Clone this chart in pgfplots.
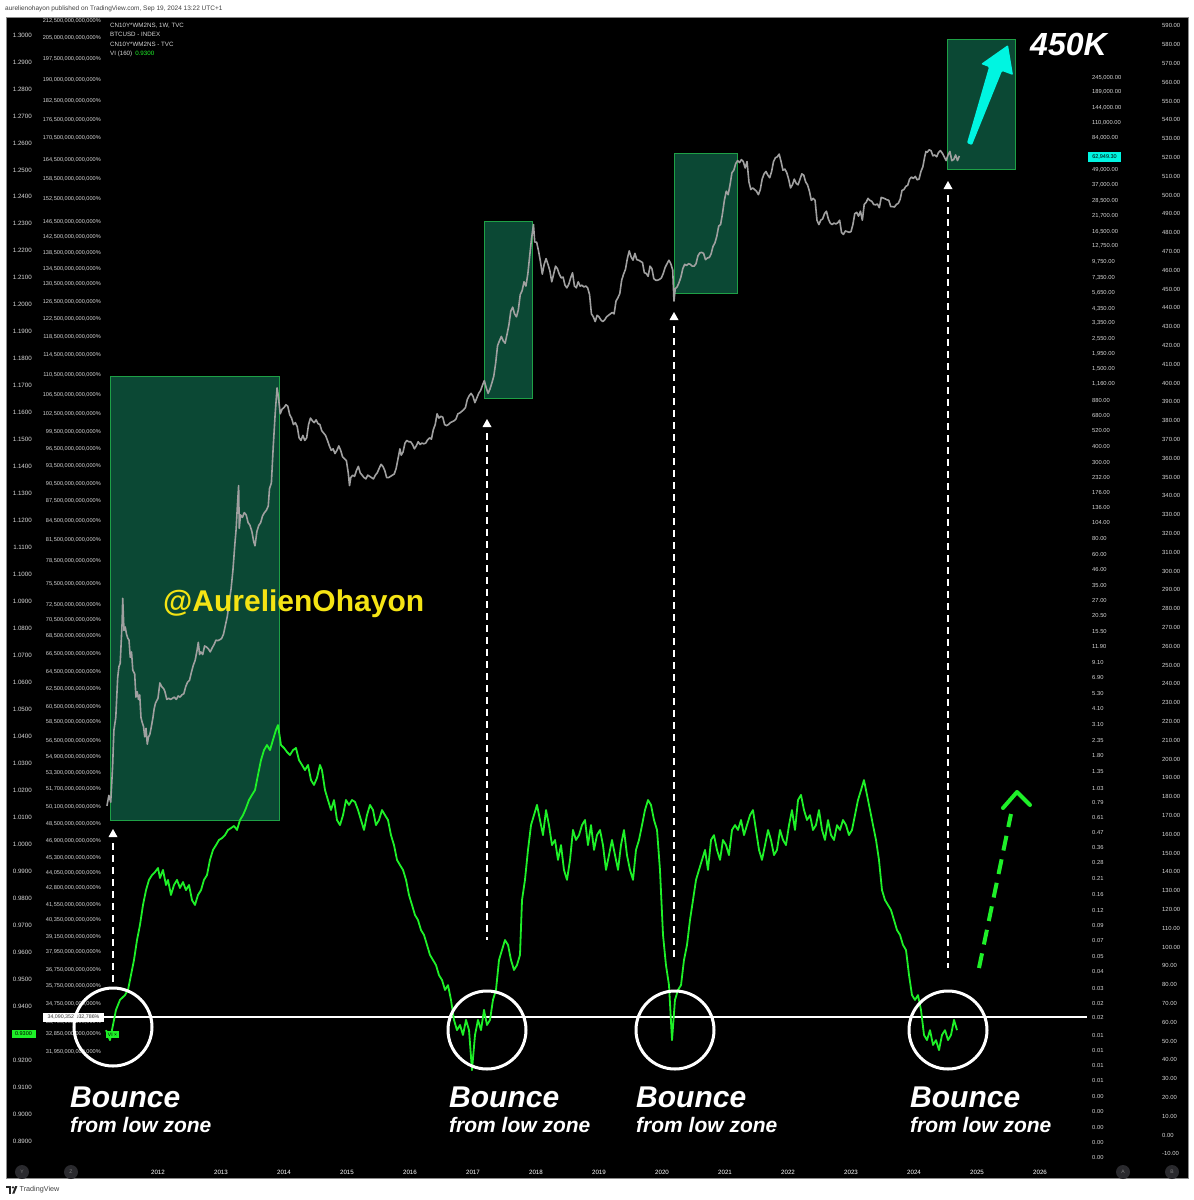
\documentclass[border=0pt]{standalone}
\usepackage{pgfplots}
\pgfplotsset{compat=1.18}
\usepackage{fontspec}
\setmainfont{Liberation Sans}
\definecolor{boxfill}{RGB}{11,72,52}
\definecolor{boxedge}{RGB}{30,160,70}
\definecolor{vigreen}{RGB}{30,240,40}
\definecolor{btcgray}{RGB}{160,160,160}
\definecolor{ticktext}{RGB}{215,215,215}
\definecolor{aqua}{RGB}{0,245,225}
\definecolor{handle}{RGB}{245,228,20}
\definecolor{knob}{RGB}{42,42,46}
\pgfplotsset{
  base/.style={
    at={(104pt,-1160pt)}, anchor=south west,
    width=983pt, height=1143pt, scale only axis,
    xmin=2011.143, xmax=2026.746,
    axis line style={draw=none}, tick style={draw=none}, major tick length=0pt,
    xtick=\empty, ytick=\empty,
    tick label style={text=ticktext, inner sep=0pt},
  },
}
\begin{document}
\begin{tikzpicture}
\useasboundingbox (0pt,0pt) rectangle (1194pt,-1200pt);
\fill[white] (0pt,0pt) rectangle (1194pt,-1200pt);
\fill[black] (6pt,-17pt) rectangle (1188pt,-1178pt);
\draw[black!45, line width=0.8pt] (6pt,-17pt) rectangle (1188pt,-1178pt);

% ---------- BTC (log scale) ----------
\begin{axis}[base, ymode=log, ymin=0.001556, ymax=709800]
\fill[boxfill] (axis cs:2011.238,0.587) rectangle (axis cs:2013.921,1352);
\draw[boxedge, line width=0.8pt] (axis cs:2011.238,0.587) rectangle (axis cs:2013.921,1352);
\fill[boxfill] (axis cs:2017.175,922) rectangle (axis cs:2017.937,20200);
\draw[boxedge, line width=0.8pt] (axis cs:2017.175,922) rectangle (axis cs:2017.937,20200);
\fill[boxfill] (axis cs:2020.19,5750) rectangle (axis cs:2021.19,66200);
\draw[boxedge, line width=0.8pt] (axis cs:2020.19,5750) rectangle (axis cs:2021.19,66200);
\fill[boxfill] (axis cs:2024.524,50100) rectangle (axis cs:2025.603,483000);
\draw[boxedge, line width=0.8pt] (axis cs:2024.524,50100) rectangle (axis cs:2025.603,483000);
\addplot[btcgray, line width=1.6pt, line join=round] table[row sep=\\] {
2011.19 0.75\\ 2011.22 0.90\\ 2011.25 0.80\\ 2011.28 1.5\\ 2011.30 2.8\\ 2011.33 3.5\\ 2011.36 7.0\\ 2011.38 8.5\\ 2011.40 9.0\\ 2011.43 18\\
2011.44 28\\ 2011.46 16\\ 2011.48 17\\ 2011.50 15\\ 2011.52 14\\ 2011.54 13.5\\ 2011.56 10\\ 2011.58 11\\ 2011.60 8.0\\ 2011.63 7.5\\
2011.65 5.0\\ 2011.67 5.5\\ 2011.69 4.8\\ 2011.71 5.2\\ 2011.73 3.5\\ 2011.75 3.2\\ 2011.77 3.0\\ 2011.79 2.5\\ 2011.81 2.9\\ 2011.83 2.2\\
2011.85 2.5\\ 2011.87 2.6\\ 2011.89 2.9\\ 2011.92 3.5\\ 2011.94 4.1\\ 2011.96 4.5\\ 2012.00 4.9\\ 2012.03 6.4\\ 2012.06 6.0\\ 2012.09 5.8\\
2012.11 5.5\\ 2012.14 4.8\\ 2012.17 4.9\\ 2012.20 4.8\\ 2012.23 4.9\\ 2012.26 5.0\\ 2012.29 4.8\\ 2012.32 5.1\\ 2012.35 5.0\\ 2012.38 5.2\\
2012.41 5.3\\ 2012.44 6.0\\ 2012.47 6.5\\ 2012.50 6.7\\ 2012.53 7.7\\ 2012.56 8.7\\ 2012.59 9.5\\ 2012.62 11.3\\ 2012.64 13.0\\ 2012.66 10.5\\
2012.68 11.0\\ 2012.71 10.5\\ 2012.74 12.2\\ 2012.77 12.0\\ 2012.80 11.6\\ 2012.83 11.0\\ 2012.86 11.8\\ 2012.89 12.5\\ 2012.92 13.5\\ 2012.95 13.4\\
2012.98 13.6\\ 2013.01 13.9\\ 2013.04 15.0\\ 2013.07 17.5\\ 2013.10 20.4\\ 2013.13 26\\ 2013.16 33\\ 2013.19 46\\ 2013.22 72\\ 2013.24 93\\
2013.26 140\\ 2013.28 200\\ 2013.29 95\\ 2013.31 120\\ 2013.34 115\\ 2013.37 125\\ 2013.40 120\\ 2013.43 105\\ 2013.46 100\\ 2013.49 90\\
2013.52 75\\ 2013.54 70\\ 2013.57 90\\ 2013.60 100\\ 2013.63 105\\ 2013.66 118\\ 2013.69 125\\ 2013.72 130\\ 2013.75 140\\ 2013.77 190\\
2013.80 210\\ 2013.83 400\\ 2013.86 700\\ 2013.89 1100\\ 2013.91 950\\ 2013.94 700\\ 2013.97 760\\ 2014.00 780\\ 2014.03 820\\ 2014.06 800\\
2014.09 690\\ 2014.12 650\\ 2014.15 580\\ 2014.18 600\\ 2014.21 560\\ 2014.24 460\\ 2014.27 440\\ 2014.30 480\\ 2014.33 440\\ 2014.36 460\\
2014.39 580\\ 2014.42 650\\ 2014.45 620\\ 2014.48 600\\ 2014.51 630\\ 2014.54 590\\ 2014.57 580\\ 2014.60 520\\ 2014.63 500\\ 2014.66 480\\
2014.69 440\\ 2014.72 400\\ 2014.75 370\\ 2014.78 380\\ 2014.81 350\\ 2014.84 370\\ 2014.87 400\\ 2014.90 370\\ 2014.93 330\\ 2014.96 320\\
2014.99 310\\ 2015.02 250\\ 2015.04 200\\ 2015.06 230\\ 2015.09 240\\ 2015.12 235\\ 2015.15 260\\ 2015.18 280\\ 2015.21 250\\ 2015.24 240\\
2015.27 230\\ 2015.30 225\\ 2015.33 240\\ 2015.36 235\\ 2015.39 230\\ 2015.42 225\\ 2015.45 240\\ 2015.48 250\\ 2015.51 270\\ 2015.54 290\\
2015.57 280\\ 2015.60 260\\ 2015.63 230\\ 2015.66 230\\ 2015.69 235\\ 2015.72 240\\ 2015.75 245\\ 2015.78 270\\ 2015.81 320\\ 2015.84 380\\
2015.86 340\\ 2015.89 360\\ 2015.92 420\\ 2015.95 440\\ 2015.98 430\\ 2016.01 430\\ 2016.04 410\\ 2016.07 380\\ 2016.10 400\\ 2016.13 430\\
2016.16 410\\ 2016.19 420\\ 2016.22 415\\ 2016.25 420\\ 2016.28 445\\ 2016.31 460\\ 2016.34 450\\ 2016.37 530\\ 2016.40 580\\ 2016.43 700\\
2016.46 650\\ 2016.49 670\\ 2016.52 660\\ 2016.55 580\\ 2016.58 570\\ 2016.61 580\\ 2016.64 600\\ 2016.67 610\\ 2016.70 620\\ 2016.73 640\\
2016.76 700\\ 2016.79 710\\ 2016.82 730\\ 2016.85 750\\ 2016.88 780\\ 2016.91 900\\ 2016.94 960\\ 2016.97 1000\\ 2017.00 950\\ 2017.03 850\\
2017.06 920\\ 2017.09 1000\\ 2017.12 1050\\ 2017.15 1150\\ 2017.18 1250\\ 2017.21 1100\\ 2017.24 1000\\ 2017.27 1080\\ 2017.30 1200\\ 2017.33 1350\\
2017.36 1700\\ 2017.39 2300\\ 2017.42 2500\\ 2017.45 2700\\ 2017.48 2500\\ 2017.51 2400\\ 2017.54 2800\\ 2017.57 3300\\ 2017.60 4200\\ 2017.63 4500\\
2017.66 4000\\ 2017.69 3800\\ 2017.72 4300\\ 2017.75 5600\\ 2017.78 6000\\ 2017.81 7000\\ 2017.84 6500\\ 2017.87 8000\\ 2017.90 11000\\ 2017.93 15000\\
2017.96 19000\\ 2017.98 14000\\ 2018.01 14000\\ 2018.04 12000\\ 2018.07 10000\\ 2018.10 8000\\ 2018.13 9500\\ 2018.16 10500\\ 2018.19 9500\\ 2018.22 8500\\
2018.25 7000\\ 2018.28 8000\\ 2018.31 9200\\ 2018.34 8800\\ 2018.37 8000\\ 2018.40 7500\\ 2018.43 7600\\ 2018.46 6600\\ 2018.49 6300\\ 2018.52 6700\\
2018.55 7500\\ 2018.58 8200\\ 2018.61 6500\\ 2018.64 6300\\ 2018.67 7000\\ 2018.70 6500\\ 2018.73 6600\\ 2018.76 6400\\ 2018.79 6500\\ 2018.82 6300\\
2018.85 5600\\ 2018.88 4000\\ 2018.91 3800\\ 2018.94 3500\\ 2018.97 3900\\ 2019.00 3800\\ 2019.03 3600\\ 2019.06 3500\\ 2019.09 3600\\ 2019.12 3800\\
2019.15 3900\\ 2019.18 4000\\ 2019.21 4100\\ 2019.24 4000\\ 2019.27 5000\\ 2019.30 5300\\ 2019.33 5700\\ 2019.36 7200\\ 2019.39 8000\\ 2019.42 8700\\
2019.45 10500\\ 2019.48 12000\\ 2019.51 10800\\ 2019.54 10200\\ 2019.57 11500\\ 2019.60 10300\\ 2019.63 10200\\ 2019.66 10000\\ 2019.69 9800\\ 2019.72 8200\\
2019.75 8100\\ 2019.78 7700\\ 2019.81 9200\\ 2019.84 8800\\ 2019.87 7400\\ 2019.90 7200\\ 2019.93 7200\\ 2019.96 7300\\ 2019.99 7500\\ 2020.02 8100\\
2020.05 9000\\ 2020.08 9600\\ 2020.11 10200\\ 2020.14 9600\\ 2020.17 8600\\ 2020.19 5000\\ 2020.21 6200\\ 2020.24 6400\\ 2020.27 6900\\ 2020.30 7600\\
2020.33 8800\\ 2020.36 9500\\ 2020.39 9300\\ 2020.42 9600\\ 2020.45 9500\\ 2020.48 9200\\ 2020.51 9200\\ 2020.54 9600\\ 2020.57 11000\\ 2020.60 11600\\
2020.63 11700\\ 2020.66 11500\\ 2020.69 10300\\ 2020.72 10600\\ 2020.75 10700\\ 2020.78 11400\\ 2020.81 13000\\ 2020.84 13800\\ 2020.87 15500\\ 2020.90 18500\\
2020.93 19000\\ 2020.96 23000\\ 2020.99 29000\\ 2021.02 34000\\ 2021.05 32000\\ 2021.08 38000\\ 2021.11 47000\\ 2021.14 49000\\ 2021.17 55000\\ 2021.20 58000\\
2021.23 56000\\ 2021.26 59000\\ 2021.29 57000\\ 2021.32 51000\\ 2021.35 57000\\ 2021.38 40000\\ 2021.41 35000\\ 2021.44 36000\\ 2021.47 35000\\ 2021.50 34000\\
2021.53 32000\\ 2021.56 35000\\ 2021.59 42000\\ 2021.62 46000\\ 2021.65 48000\\ 2021.68 45000\\ 2021.71 43000\\ 2021.74 48000\\ 2021.77 57000\\ 2021.80 61000\\
2021.83 62000\\ 2021.86 65000\\ 2021.89 57000\\ 2021.92 49000\\ 2021.95 50000\\ 2021.98 47000\\ 2022.01 42000\\ 2022.04 36000\\ 2022.07 38000\\ 2022.10 42000\\
2022.13 39000\\ 2022.16 38000\\ 2022.19 42000\\ 2022.22 46000\\ 2022.25 45000\\ 2022.28 40000\\ 2022.31 38000\\ 2022.34 34000\\ 2022.37 29000\\ 2022.40 30000\\
2022.43 29000\\ 2022.46 20500\\ 2022.49 19000\\ 2022.52 20500\\ 2022.55 21000\\ 2022.58 23000\\ 2022.61 24000\\ 2022.64 21000\\ 2022.67 19500\\ 2022.70 19000\\
2022.73 19500\\ 2022.76 19200\\ 2022.79 19600\\ 2022.82 20500\\ 2022.85 16500\\ 2022.88 16000\\ 2022.91 17000\\ 2022.94 16800\\ 2022.97 16600\\ 2023.00 16800\\
2023.03 19000\\ 2023.06 23000\\ 2023.09 23500\\ 2023.12 22000\\ 2023.15 24000\\ 2023.18 20500\\ 2023.21 27000\\ 2023.24 28000\\ 2023.27 30000\\ 2023.30 29000\\
2023.33 28500\\ 2023.36 27000\\ 2023.39 26800\\ 2023.42 27200\\ 2023.45 25500\\ 2023.48 30500\\ 2023.51 30200\\ 2023.54 29800\\ 2023.57 29300\\ 2023.60 29000\\
2023.63 26000\\ 2023.66 26000\\ 2023.69 25800\\ 2023.72 27000\\ 2023.75 27500\\ 2023.78 29500\\ 2023.81 34500\\ 2023.84 35000\\ 2023.87 37000\\ 2023.90 37700\\
2023.93 42000\\ 2023.96 43500\\ 2023.99 42500\\ 2024.02 44000\\ 2024.05 41500\\ 2024.08 42000\\ 2024.11 48000\\ 2024.14 52000\\ 2024.17 62000\\ 2024.19 68000\\
2024.21 67000\\ 2024.24 70000\\ 2024.27 69000\\ 2024.30 63000\\ 2024.33 64000\\ 2024.36 62000\\ 2024.39 67000\\ 2024.42 69000\\ 2024.45 66000\\ 2024.48 62000\\
2024.51 58000\\ 2024.54 64000\\ 2024.57 68000\\ 2024.60 58000\\ 2024.63 59000\\ 2024.66 64000\\ 2024.69 58000\\ 2024.72 62949\\
};
\end{axis}

% ---------- VI / left value scale ----------
\begin{axis}[base, ymin=0.88296, ymax=1.30667,
  ytick={0.89,0.90,0.91,0.92,0.93,0.94,0.95,0.96,0.97,0.98,0.99,1.00,1.01,1.02,1.03,1.04,1.05,1.06,1.07,1.08,1.09,1.10,1.11,1.12,1.13,1.14,1.15,1.16,1.17,1.18,1.19,1.20,1.21,1.22,1.23,1.24,1.25,1.26,1.27,1.28,1.29,1.30},
  yticklabel={\pgfmathprintnumber[fixed,fixed zerofill,precision=4,assume math mode=true]{\tick}},
  yticklabel style={anchor=east, xshift=-72pt, font=\fontsize{6.2}{7}\selectfont},
  xtick={2012,2013,2014,2015,2016,2017,2018,2019,2020,2021,2022,2023,2024,2025,2026},
  xticklabels={2012,2013,2014,2015,2016,2017,2018,2019,2020,2021,2022,2023,2024,2025,2026},
  xticklabel style={anchor=center, yshift=-12pt, text=white, font=\fontsize{6.2}{7}\selectfont}]
\addplot[white, line width=1.2pt] coordinates {(2011.143,0.936) (2026.746,0.936)};
\addplot[vigreen, line width=1.8pt, line join=round] table[row sep=\\] {
2011.175 0.9311\\ 2011.238 0.9274\\ 2011.286 0.9330\\ 2011.333 0.9386\\ 2011.397 0.9423\\ 2011.476 0.9441\\ 2011.524 0.9460\\ 2011.571 0.9515\\ 2011.619 0.9571\\ 2011.667 0.9645\\
2011.714 0.9701\\ 2011.762 0.9775\\ 2011.810 0.9830\\ 2011.857 0.9868\\ 2011.905 0.9886\\ 2011.952 0.9897\\ 2012.000 0.9912\\ 2012.032 0.9875\\ 2012.079 0.9905\\ 2012.127 0.9849\\
2012.159 0.9868\\ 2012.206 0.9812\\ 2012.254 0.9849\\ 2012.302 0.9868\\ 2012.349 0.9838\\ 2012.397 0.9860\\ 2012.444 0.9830\\ 2012.492 0.9849\\ 2012.540 0.9793\\ 2012.587 0.9775\\
2012.635 0.9812\\ 2012.683 0.9830\\ 2012.730 0.9868\\ 2012.778 0.9886\\ 2012.825 0.9942\\ 2012.873 0.9979\\ 2012.921 0.9997\\ 2012.968 1.0016\\ 2013.016 1.0023\\ 2013.063 1.0034\\
2013.111 1.0053\\ 2013.159 1.0060\\ 2013.206 1.0068\\ 2013.254 1.0053\\ 2013.302 1.0090\\ 2013.349 1.0108\\ 2013.397 1.0134\\ 2013.444 1.0164\\ 2013.492 1.0183\\ 2013.540 1.0201\\
2013.587 1.0257\\ 2013.635 1.0312\\ 2013.683 1.0349\\ 2013.730 1.0368\\ 2013.778 1.0349\\ 2013.825 1.0387\\ 2013.873 1.0424\\ 2013.905 1.0442\\ 2013.952 1.0368\\ 2014.000 1.0357\\
2014.048 1.0342\\ 2014.095 1.0331\\ 2014.143 1.0349\\ 2014.190 1.0357\\ 2014.238 1.0312\\ 2014.286 1.0294\\ 2014.333 1.0275\\ 2014.381 1.0294\\ 2014.429 1.0238\\ 2014.476 1.0220\\
2014.524 1.0246\\ 2014.571 1.0294\\ 2014.603 1.0275\\ 2014.651 1.0201\\ 2014.698 1.0164\\ 2014.746 1.0127\\ 2014.794 1.0164\\ 2014.841 1.0090\\ 2014.889 1.0071\\ 2014.937 1.0108\\
2014.984 1.0164\\ 2015.032 1.0146\\ 2015.079 1.0164\\ 2015.127 1.0157\\ 2015.175 1.0127\\ 2015.222 1.0090\\ 2015.270 1.0053\\ 2015.317 1.0108\\ 2015.365 1.0146\\ 2015.413 1.0127\\
2015.460 1.0071\\ 2015.508 1.0090\\ 2015.556 1.0127\\ 2015.603 1.0108\\ 2015.651 1.0090\\ 2015.698 1.0034\\ 2015.746 0.9997\\ 2015.794 0.9942\\ 2015.841 0.9923\\ 2015.889 0.9905\\
2015.937 0.9868\\ 2015.984 0.9812\\ 2016.032 0.9775\\ 2016.079 0.9738\\ 2016.127 0.9719\\ 2016.175 0.9682\\ 2016.222 0.9664\\ 2016.270 0.9627\\ 2016.317 0.9590\\ 2016.365 0.9571\\
2016.413 0.9552\\ 2016.460 0.9515\\ 2016.508 0.9497\\ 2016.556 0.9460\\ 2016.603 0.9478\\ 2016.651 0.9423\\ 2016.698 0.9349\\ 2016.746 0.9311\\ 2016.794 0.9330\\ 2016.841 0.9293\\
2016.889 0.9349\\ 2016.937 0.9311\\ 2016.984 0.9163\\ 2017.032 0.9293\\ 2017.079 0.9349\\ 2017.127 0.9311\\ 2017.175 0.9386\\ 2017.222 0.9330\\ 2017.270 0.9349\\ 2017.317 0.9423\\
2017.365 0.9460\\ 2017.413 0.9571\\ 2017.460 0.9608\\ 2017.508 0.9645\\ 2017.556 0.9627\\ 2017.603 0.9571\\ 2017.651 0.9534\\ 2017.698 0.9552\\ 2017.746 0.9590\\ 2017.778 0.9793\\
2017.825 0.9868\\ 2017.873 0.9979\\ 2017.921 1.0071\\ 2017.968 1.0108\\ 2018.016 1.0146\\ 2018.063 1.0090\\ 2018.111 1.0034\\ 2018.159 1.0127\\ 2018.206 1.0071\\ 2018.254 0.9997\\
2018.302 1.0016\\ 2018.349 0.9942\\ 2018.397 0.9997\\ 2018.444 0.9905\\ 2018.492 0.9868\\ 2018.540 0.9942\\ 2018.587 1.0053\\ 2018.635 1.0016\\ 2018.683 1.0034\\ 2018.730 1.0071\\
2018.778 1.0090\\ 2018.825 0.9997\\ 2018.873 1.0071\\ 2018.921 0.9979\\ 2018.968 1.0034\\ 2019.016 1.0053\\ 2019.063 0.9997\\ 2019.111 0.9905\\ 2019.159 0.9960\\ 2019.206 1.0016\\
2019.254 0.9960\\ 2019.302 0.9905\\ 2019.349 0.9997\\ 2019.397 1.0053\\ 2019.444 0.9960\\ 2019.492 0.9905\\ 2019.540 0.9868\\ 2019.587 0.9979\\ 2019.635 1.0016\\ 2019.683 1.0071\\
2019.730 1.0127\\ 2019.778 1.0164\\ 2019.825 1.0146\\ 2019.873 1.0090\\ 2019.921 1.0053\\ 2019.968 0.9905\\ 2020.016 0.9664\\ 2020.063 0.9552\\ 2020.111 0.9478\\ 2020.159 0.9274\\
2020.206 0.9423\\ 2020.254 0.9460\\ 2020.302 0.9478\\ 2020.349 0.9571\\ 2020.397 0.9627\\ 2020.444 0.9719\\ 2020.492 0.9793\\ 2020.540 0.9868\\ 2020.587 0.9905\\ 2020.635 0.9942\\
2020.683 0.9979\\ 2020.730 0.9905\\ 2020.778 1.0016\\ 2020.825 1.0034\\ 2020.873 0.9979\\ 2020.921 0.9942\\ 2020.968 1.0016\\ 2021.016 0.9997\\ 2021.063 0.9960\\ 2021.111 1.0053\\
2021.159 1.0071\\ 2021.206 1.0053\\ 2021.254 1.0090\\ 2021.302 1.0034\\ 2021.349 1.0071\\ 2021.397 1.0108\\ 2021.444 1.0127\\ 2021.492 1.0053\\ 2021.540 0.9979\\ 2021.587 0.9942\\
2021.635 0.9997\\ 2021.683 1.0053\\ 2021.730 1.0016\\ 2021.778 0.9960\\ 2021.825 0.9979\\ 2021.873 1.0053\\ 2021.921 1.0016\\ 2021.968 0.9997\\ 2022.016 1.0071\\ 2022.063 1.0127\\
2022.111 1.0053\\ 2022.159 1.0164\\ 2022.206 1.0183\\ 2022.254 1.0127\\ 2022.302 1.0090\\ 2022.349 1.0108\\ 2022.397 1.0053\\ 2022.444 1.0071\\ 2022.492 1.0127\\ 2022.540 1.0053\\
2022.587 1.0016\\ 2022.635 1.0090\\ 2022.683 1.0034\\ 2022.730 1.0016\\ 2022.778 1.0071\\ 2022.825 1.0053\\ 2022.873 1.0090\\ 2022.921 1.0071\\ 2022.968 1.0034\\ 2023.016 1.0053\\
2023.063 1.0108\\ 2023.111 1.0164\\ 2023.159 1.0201\\ 2023.206 1.0238\\ 2023.254 1.0183\\ 2023.302 1.0127\\ 2023.349 1.0071\\ 2023.397 1.0016\\ 2023.444 0.9942\\ 2023.492 0.9830\\
2023.540 0.9793\\ 2023.587 0.9775\\ 2023.635 0.9756\\ 2023.683 0.9719\\ 2023.730 0.9682\\ 2023.778 0.9664\\ 2023.825 0.9627\\ 2023.873 0.9608\\ 2023.921 0.9515\\ 2023.968 0.9441\\
2024.016 0.9423\\ 2024.063 0.9441\\ 2024.111 0.9386\\ 2024.159 0.9293\\ 2024.206 0.9274\\ 2024.254 0.9311\\ 2024.302 0.9256\\ 2024.349 0.9274\\ 2024.397 0.9237\\ 2024.444 0.9293\\
2024.492 0.9311\\ 2024.540 0.9274\\ 2024.587 0.9293\\ 2024.635 0.9349\\ 2024.683 0.9311\\
};
\end{axis}

% ---------- second left column (percent scale) ----------
\begin{axis}[base, ymin=17, ymax=1160, y dir=reverse,
  ytick={20.5,38,58.5,80,101,120,138,160,179,199,222,237,253,269,284,302,319,337,355,375,395,414,432,449,466,484,501,521,540,561,584,605,620,636,654,672,689,707,722,741,757,773,789,807,824,841,858,873,888,905,920,937,952,970,986,1004,1022,1034,1052},
  yticklabels={{212,500,000,000,000\%},{205,000,000,000,000\%},{197,500,000,000,000\%},{190,000,000,000,000\%},{182,500,000,000,000\%},{176,500,000,000,000\%},{170,500,000,000,000\%},{164,500,000,000,000\%},{158,500,000,000,000\%},{152,500,000,000,000\%},{146,500,000,000,000\%},{142,500,000,000,000\%},{138,500,000,000,000\%},{134,500,000,000,000\%},{130,500,000,000,000\%},{126,500,000,000,000\%},{122,500,000,000,000\%},{118,500,000,000,000\%},{114,500,000,000,000\%},{110,500,000,000,000\%},{106,500,000,000,000\%},{102,500,000,000,000\%},{99,500,000,000,000\%},{96,500,000,000,000\%},{93,500,000,000,000\%},{90,500,000,000,000\%},{87,500,000,000,000\%},{84,500,000,000,000\%},{81,500,000,000,000\%},{78,500,000,000,000\%},{75,500,000,000,000\%},{72,500,000,000,000\%},{70,500,000,000,000\%},{68,500,000,000,000\%},{66,500,000,000,000\%},{64,500,000,000,000\%},{62,500,000,000,000\%},{60,500,000,000,000\%},{58,500,000,000,000\%},{56,500,000,000,000\%},{54,900,000,000,000\%},{53,300,000,000,000\%},{51,700,000,000,000\%},{50,100,000,000,000\%},{48,500,000,000,000\%},{46,900,000,000,000\%},{45,300,000,000,000\%},{44,050,000,000,000\%},{42,800,000,000,000\%},{41,550,000,000,000\%},{40,350,000,000,000\%},{39,150,000,000,000\%},{37,950,000,000,000\%},{36,750,000,000,000\%},{35,750,000,000,000\%},{34,750,000,000,000\%},{33,750,000,000,000\%},{32,850,000,000,000\%},{31,950,000,000,000\%}},
  yticklabel style={anchor=east, xshift=-3pt, font=\fontsize{5.6}{6}\selectfont}]
\end{axis}

% ---------- BTC price labels (right, first column) ----------
\begin{axis}[base, ymin=17, ymax=1160, y dir=reverse, yticklabel pos=right,
  ytick={78,92,108,123,138,170,185,201,216,232,246,262,278,293,309,323,339,354,369,384,400,415,430,446,462,477,492,507,522,538,554,569,585,600,615,631,646,662,677,693,708,724,740,755,771,788,802,817,832,847,862,878,894,910,925,940,956,971,988,1003,1017,1035,1050,1065,1080,1096,1111,1127,1142,1157},
  yticklabels={{245,000.00},{189,000.00},{144,000.00},{110,000.00},{84,000.00},{49,000.00},{37,000.00},{28,500.00},{21,700.00},{16,500.00},{12,750.00},{9,750.00},{7,350.00},{5,650.00},{4,350.00},{3,350.00},{2,550.00},{1,950.00},{1,500.00},{1,160.00},{880.00},{680.00},{520.00},{400.00},{300.00},{232.00},{176.00},{136.00},{104.00},{80.00},{60.00},{46.00},{35.00},{27.00},{20.50},{15.50},{11.90},{9.10},{6.90},{5.30},{4.10},{3.10},{2.35},{1.80},{1.35},{1.03},{0.79},{0.61},{0.47},{0.36},{0.28},{0.21},{0.16},{0.12},{0.09},{0.07},{0.05},{0.04},{0.03},{0.02},{0.02},{0.01},{0.01},{0.01},{0.01},{0.00},{0.00},{0.00},{0.00},{0.00}},
  yticklabel style={anchor=west, xshift=5pt, font=\fontsize{5.8}{6}\selectfont}]
\end{axis}

% ---------- far right linear scale ----------
\begin{axis}[base, ymin=-13.3, ymax=594.7, yticklabel pos=right,
  ytick={-10,0,10,20,30,40,50,60,70,80,90,100,110,120,130,140,150,160,170,180,190,200,210,220,230,240,250,260,270,280,290,300,310,320,330,340,350,360,370,380,390,400,410,420,430,440,450,460,470,480,490,500,510,520,530,540,550,560,570,580,590},
  yticklabel={\pgfmathprintnumber[fixed,fixed zerofill,precision=2,assume math mode=true]{\tick}},
  yticklabel style={anchor=west, xshift=75pt, font=\fontsize{5.9}{6}\selectfont}]
\end{axis}

% ---------- annotations (pixel frame) ----------
\begin{scope}[x=1pt,y=-1pt]
\node[anchor=west, inner sep=0, text=black!75, font=\fontsize{6.5}{7}\selectfont] at (5,8.5) {aurelienohayon published on TradingView.com, Sep 19, 2024 13:22 UTC+1};
\fill[black!85] (6,1186) rectangle (11,1188.3);
\fill[black!85] (8.6,1186) rectangle (11,1193.5);
\fill[black!85] (13,1187.4) circle (1.3);
\fill[black!85] (12.2,1193.5) -- (15.2,1186) -- (17.4,1186) -- (14.4,1193.5) -- cycle;
\node[anchor=west, inner sep=0, text=black!75, font=\fontsize{7.2}{8}\selectfont] at (19.5,1190) {TradingView};
\begin{scope}[every node/.style={anchor=base west, inner sep=0, text=ticktext, font=\fontsize{6.2}{7}\selectfont}]
\node at (110,27.2) {CN10Y*WM2NS, 1W, TVC};
\node at (110,36.6) {BTCUSD - INDEX};
\node at (110,46.2) {CN10Y*WM2NS - TVC};
\node at (110,55.6) {VI (160)\hspace{3pt}\textcolor{vigreen}{0.9300}};
\end{scope}
\foreach \px/\lt in {22/Y,71/Z,1123/A,1172/B}{
  \fill[knob] (\px,1172) circle (7);
  \node[text=black!50, font=\fontsize{5}{5}\selectfont, inner sep=0] at (\px,1172) {\lt};
}
\node[fill=vigreen, text=black, minimum width=24pt, minimum height=8pt, inner sep=0, font=\fontsize{5.5}{6}\selectfont] at (23.5,1034) {0.9300};
\node[fill=white, text=black!80, minimum width=61pt, minimum height=9pt, inner sep=0, font=\fontsize{5.3}{6}\selectfont] at (73.5,1017) {34,090,352,032,786\%};
\node[fill=vigreen, text=black, minimum width=13pt, minimum height=7.5pt, inner sep=0, font=\fontsize{5}{5}\selectfont] at (112.5,1034.5) {VI ×};
\node[fill=aqua, text=black, minimum width=33pt, minimum height=10pt, inner sep=0, font=\fontsize{5.5}{6}\selectfont] at (1104.5,157) {62,949.30};
\foreach \cx/\cy in {113/1027,487/1030,675/1030,948/1030}{
  \draw[white, line width=3pt] (\cx,\cy) circle (39);
}
\foreach \ax/\tip/\bot in {113/829/985,487/419/940,674/312/960,948/181/968}{
  \fill[white] (\ax-4.5,\tip+8) -- (\ax,\tip) -- (\ax+4.5,\tip+8) -- cycle;
  \draw[white, line width=1.6pt, dash pattern=on 7pt off 5pt] (\ax,\tip+14) -- (\ax,\bot);
}
\draw[vigreen, line width=4pt, dash pattern=on 15pt off 9pt] (979,968) -- (1011,814);
\draw[vigreen, line width=4pt, line join=round, line cap=round] (1003,808) -- (1017,792) -- (1030,805);
\fill[aqua, rounded corners=1pt] (967,143) -- (989,67) -- (981,64) -- (1008,45) -- (1013,75) -- (1002,71) -- (972,145) -- cycle;
\node[anchor=base west, inner sep=0, text=handle, font=\fontsize{30}{30}\selectfont\bfseries] at (163,611) {@AurelienOhayon};
\node[anchor=base west, inner sep=0, text=white, font=\fontsize{32}{32}\selectfont\bfseries\itshape] at (1030,55) {450K};
\foreach \bx in {70,449,636,910}{
  \node[anchor=base west, inner sep=0, text=white, font=\fontsize{30}{30}\selectfont\bfseries\itshape] at (\bx,1107) {Bounce};
  \node[anchor=base west, inner sep=0, text=white, font=\fontsize{21}{21}\selectfont\bfseries\itshape] at (\bx,1132) {from low zone};
}
\end{scope}
\end{tikzpicture}
\end{document}
